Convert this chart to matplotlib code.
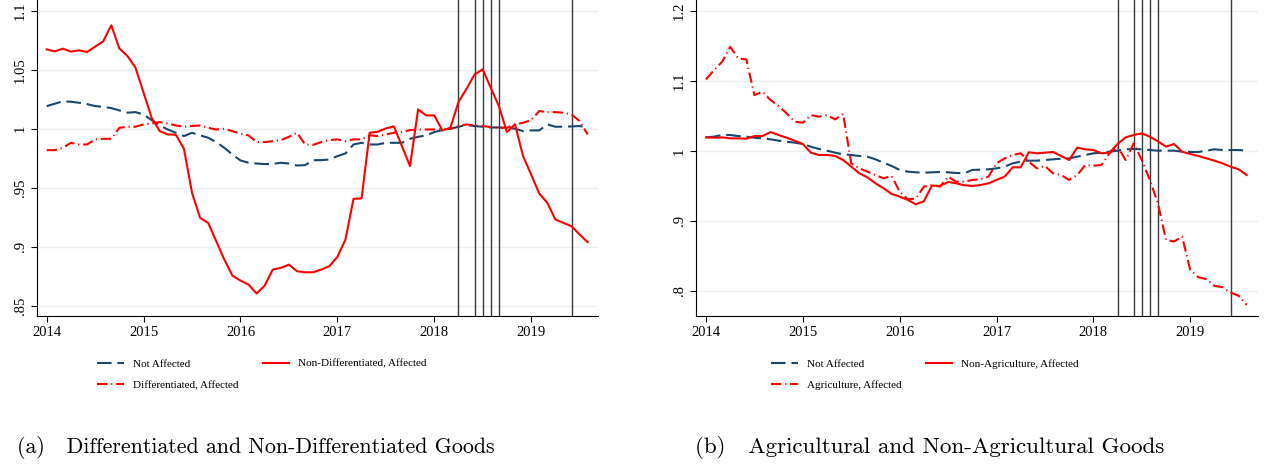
import numpy as np
import matplotlib
matplotlib.use("Agg")
import matplotlib.pyplot as plt

# monthly data, 2014m1 - 2019m8
start_year = 2014
n_months = 68

# panel (a)
a_not_affected = [1.0192, 1.0212, 1.0232, 1.0229, 1.0220, 1.0209, 1.0192, 1.0186, 1.0175, 1.0155,
                  1.0136, 1.0141, 1.0121, 1.0073, 1.0028, 0.9994, 0.9966, 0.9938, 0.9966, 0.9944,
                  0.9924, 0.9887, 0.9839, 0.9782, 0.9732, 0.9712, 0.9706, 0.9701, 0.9703, 0.9712,
                  0.9706, 0.9689, 0.9692, 0.9734, 0.9734, 0.9740, 0.9768, 0.9791, 0.9867, 0.9881,
                  0.9867, 0.9867, 0.9881, 0.9881, 0.9881, 0.9915, 0.9932, 0.9944, 0.9972, 0.9989,
                  1.0000, 1.0017, 1.0031, 1.0023, 1.0017, 1.0011, 1.0011, 1.0008, 1.0000, 0.9980,
                  0.9986, 0.9986, 1.0037, 1.0017, 1.0017, 1.0020, 1.0023, 1.0008]
a_nondiff = [1.0672, 1.0655, 1.0678, 1.0653, 1.0664, 1.0650, 1.0695, 1.0740, 1.0876, 1.0680,
             1.0616, 1.0517, 1.0305, 1.0093, 0.9980, 0.9952, 0.9949, 0.9830, 0.9458, 0.9246,
             0.9203, 0.9048, 0.8893, 0.8757, 0.8715, 0.8681, 0.8605, 0.8672, 0.8808, 0.8822,
             0.8850, 0.8794, 0.8785, 0.8785, 0.8808, 0.8836, 0.8915, 0.9062, 0.9407, 0.9410,
             0.9966, 0.9975, 1.0003, 1.0020, 0.9853, 0.9684, 1.0164, 1.0113, 1.0113, 0.9986,
             1.0008, 1.0226, 1.0339, 1.0460, 1.0503, 1.0347, 1.0192, 0.9972, 1.0037, 0.9768,
             0.9613, 0.9452, 0.9373, 0.9232, 0.9203, 0.9175, 0.9105, 0.9040]
a_diff = [0.9819, 0.9819, 0.9839, 0.9881, 0.9867, 0.9867, 0.9910, 0.9915, 0.9915, 1.0008,
          1.0017, 1.0017, 1.0037, 1.0045, 1.0056, 1.0045, 1.0028, 1.0017, 1.0023, 1.0028,
          1.0008, 0.9994, 1.0000, 0.9980, 0.9958, 0.9944, 0.9887, 0.9887, 0.9895, 0.9904,
          0.9932, 0.9966, 0.9867, 0.9864, 0.9887, 0.9904, 0.9910, 0.9895, 0.9910, 0.9910,
          0.9944, 0.9938, 0.9952, 0.9966, 0.9972, 0.9989, 0.9994, 0.9994, 0.9994, 0.9994,
          1.0000, 1.0023, 1.0037, 1.0028, 1.0023, 1.0014, 1.0008, 1.0008, 1.0037, 1.0051,
          1.0073, 1.0150, 1.0141, 1.0141, 1.0136, 1.0121, 1.0065, 0.9952]

# panel (b)
b_not_affected = [1.0195, 1.0205, 1.0229, 1.0229, 1.0214, 1.0205, 1.0190, 1.0181, 1.0167, 1.0148,
                  1.0133, 1.0119, 1.0100, 1.0062, 1.0029, 1.0005, 0.9976, 0.9952, 0.9943, 0.9929,
                  0.9919, 0.9881, 0.9833, 0.9786, 0.9729, 0.9705, 0.9695, 0.9690, 0.9695, 0.9700,
                  0.9695, 0.9686, 0.9681, 0.9729, 0.9733, 0.9738, 0.9752, 0.9776, 0.9824, 0.9848,
                  0.9862, 0.9862, 0.9871, 0.9881, 0.9890, 0.9895, 0.9919, 0.9943, 0.9967, 0.9976,
                  0.9990, 1.0005, 1.0024, 1.0029, 1.0024, 1.0014, 1.0005, 1.0005, 1.0005, 0.9990,
                  0.9986, 0.9986, 1.0005, 1.0024, 1.0014, 1.0014, 1.0014, 1.0005]
b_nonagri = [1.0195, 1.0190, 1.0195, 1.0181, 1.0181, 1.0176, 1.0214, 1.0214, 1.0271, 1.0229,
             1.0190, 1.0148, 1.0100, 0.9976, 0.9943, 0.9943, 0.9929, 0.9871, 0.9776, 0.9681,
             0.9624, 0.9538, 0.9467, 0.9386, 0.9348, 0.9300, 0.9238, 0.9281, 0.9505, 0.9500,
             0.9557, 0.9538, 0.9510, 0.9500, 0.9514, 0.9538, 0.9586, 0.9633, 0.9767, 0.9767,
             0.9981, 0.9967, 0.9976, 0.9986, 0.9929, 0.9871, 1.0048, 1.0024, 1.0014, 0.9967,
             0.9976, 1.0100, 1.0195, 1.0229, 1.0252, 1.0205, 1.0138, 1.0062, 1.0100, 0.9990,
             0.9957, 0.9929, 0.9895, 0.9862, 0.9824, 0.9776, 0.9738, 0.9657]
b_agri = [1.1024, 1.1157, 1.1276, 1.1490, 1.1324, 1.1310, 1.0800, 1.0848, 1.0729, 1.0643,
          1.0538, 1.0419, 1.0405, 1.0514, 1.0490, 1.0514, 1.0452, 1.0529, 0.9824, 0.9752,
          0.9705, 0.9657, 0.9610, 0.9643, 0.9419, 0.9310, 0.9320, 0.9490, 0.9514, 0.9490,
          0.9633, 0.9562, 0.9562, 0.9586, 0.9595, 0.9633, 0.9824, 0.9895, 0.9943, 0.9967,
          0.9848, 0.9752, 0.9786, 0.9681, 0.9657, 0.9586, 0.9657, 0.9800, 0.9790, 0.9800,
          0.9967, 1.0062, 0.9871, 1.0110, 0.9871, 0.9586, 0.9252, 0.8729, 0.8705, 0.8776,
          0.8300, 0.8195, 0.8167, 0.8071, 0.8052, 0.7976, 0.7929, 0.7800]

# tariff events (year, month)
events = [(2018, 4), (2018, 6), (2018, 7), (2018, 8), (2018, 9), (2019, 6)]

x_years = [2014, 2015, 2016, 2017, 2018, 2019]
a_yticks = [0.85, 0.9, 0.95, 1.0, 1.05, 1.1]
a_ylabels = ['.85', '.9', '.95', '1', '1.05', '1.1']
b_yticks = [0.8, 0.9, 1.0, 1.1, 1.2]
b_ylabels = ['.8', '.9', '1', '1.1', '1.2']

months = start_year + np.arange(n_months) / 12.0
event_x = [y + (m - 1) / 12.0 for y, m in events]

navy = '#1a476f'
red = '#ff0000'
grid_col = '#e9f1f2'
serif = 'Liberation Serif'

fig = plt.figure(figsize=(12.65, 4.65), dpi=100)
W, H = 1265, 465


def add_ax(x0, x1, y0, y1):
    return fig.add_axes([x0 / W, 1 - y1 / H, (x1 - x0) / W, (y1 - y0) / H])


def style(ax, yticks, ylabels, ylim, xlim):
    ax.set_xlim(*xlim)
    ax.set_ylim(*ylim)
    ax.set_yticks(yticks)
    ax.set_yticklabels(ylabels, rotation=90, va='center', fontfamily=serif, fontsize=10.5)
    ax.set_xticks(x_years)
    ax.set_xticklabels([str(y) for y in x_years], fontfamily=serif, fontsize=10.5)
    for s in ['top', 'right']:
        ax.spines[s].set_visible(False)
    for s in ['left', 'bottom']:
        ax.spines[s].set_linewidth(0.8)
    ax.tick_params(direction='out', length=4.5, width=0.8, pad=3)
    ax.grid(axis='y', color=grid_col, lw=1.0)
    ax.set_axisbelow(True)
    for ex in event_x:
        ax.axvline(ex, color='#3a3a3a', lw=1.0, zorder=1.5)


dash_nav = (7.0, 2.8)
dash_dot = (5.0, 1.8, 0.6, 1.8)

ax1 = add_ax(37, 598, 0, 316)
style(ax1, a_yticks, a_ylabels, (0.8415, 1.109), (2013.9, 2019.69))
l1, = ax1.plot(months, a_not_affected, color=navy, lw=1.5, dashes=dash_nav, label='Not Affected')
l2, = ax1.plot(months, a_nondiff, color=red, lw=1.5, label='Non-Differentiated, Affected')
l3, = ax1.plot(months, a_diff, color=red, lw=1.5, dashes=dash_dot, label='Differentiated, Affected')

ax2 = add_ax(696, 1258, 0, 316)
style(ax2, b_yticks, b_ylabels, (0.764, 1.216), (2013.897, 2019.70))
r1, = ax2.plot(months, b_not_affected, color=navy, lw=1.5, dashes=dash_nav, label='Not Affected')
r2, = ax2.plot(months, b_nonagri, color=red, lw=1.5, label='Non-Agriculture, Affected')
r3, = ax2.plot(months, b_agri, color=red, lw=1.5, dashes=dash_dot, label='Agriculture, Affected')

leg_kw = dict(loc='upper left', ncol=2, frameon=False, borderpad=0, borderaxespad=0,
              handlelength=2.4, handletextpad=0.8, columnspacing=2.2, labelspacing=1.05,
              prop={'family': serif, 'size': 8})
fig.legend([l1, l3, l2], [l1.get_label(), l3.get_label(), l2.get_label()],
           bbox_to_anchor=(97 / W, 1 - 359 / H), **leg_kw)
fig.legend([r1, r3, r2], [r1.get_label(), r3.get_label(), r2.get_label()],
           bbox_to_anchor=(771 / W, 1 - 359 / H), **leg_kw)

fig.text(17 / W, 1 - 453 / H, '(a)   Differentiated and Non-Differentiated Goods',
         ha='left', va='baseline', fontfamily='cmr10', fontsize=15.8)
fig.text(695 / W, 1 - 453 / H, '(b)   Agricultural and Non-Agricultural Goods',
         ha='left', va='baseline', fontfamily='cmr10', fontsize=16.6)

fig.savefig('out.png', dpi=100)
